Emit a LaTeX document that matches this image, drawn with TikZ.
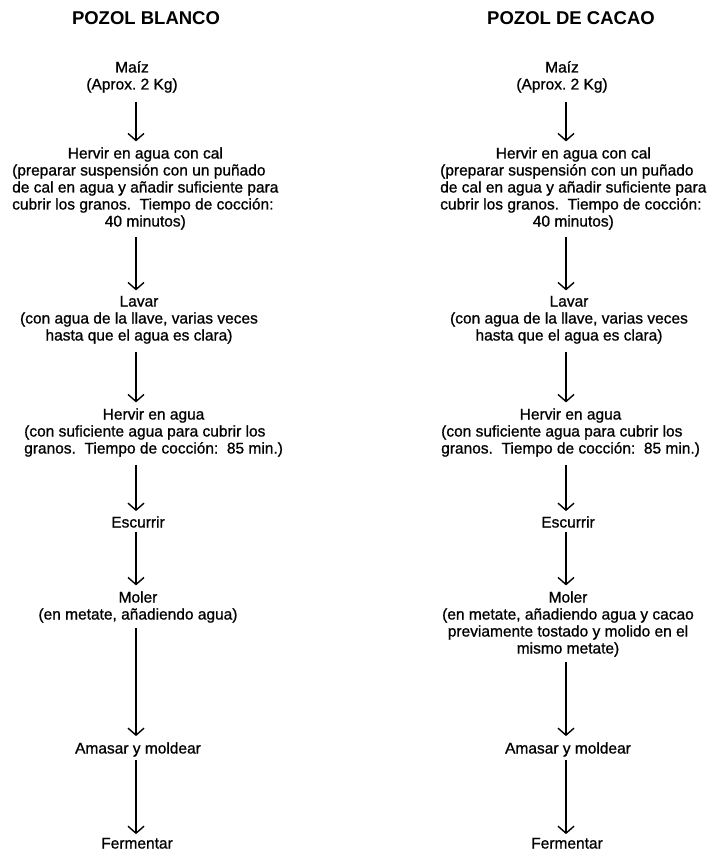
\documentclass[tikz,border=0pt]{standalone}
\usepackage{fontspec}
\setmainfont{Liberation Sans}
\newfontfamily\bodyfont{Liberation Sans}[FakeBold=0.9]
\usetikzlibrary{arrows.meta}
\frenchspacing
\begin{document}
\begin{tikzpicture}[x=1pt,y=-1pt,
  txt/.style={inner sep=0pt, anchor=base, font=\bodyfont\fontsize{15.5}{17}\selectfont},
  para/.style={inner sep=0pt, anchor=base west, font=\bodyfont\fontsize{15.5}{17}\selectfont},
  ttl/.style={inner sep=0pt, anchor=base, font=\fontsize{18.5}{20}\selectfont\bfseries},
  flow/.style={line width=1.4pt, -{Straight Barb[length=7pt,width=16pt,line width=1.4pt]}}]
\useasboundingbox[fill=white] (0,0) rectangle (715,853);
\coordinate (axL) at (136,0);
\coordinate (axR) at (566,0);
% titles
\node[ttl] (tL) at (146,24.5) {POZOL BLANCO};
\node[ttl] (tR) at (571,24.5) {POZOL DE CACAO};
% ---------- left column ----------
\node[txt] (maizL) at (132,72.5) {\begin{tabular}[t]{@{}c@{}}Maíz\\(Aprox. 2 Kg)\end{tabular}};
\node[para] (calL) at (12,158.5) {\begin{tabular}[t]{@{}l@{}}\multicolumn{1}{@{}c@{}}{Hervir en agua con cal}\\(preparar suspensión con un puñado\\de cal en agua y añadir suficiente para\\cubrir los granos.\ \ Tiempo de cocción:\\\multicolumn{1}{@{}c@{}}{40 minutos)}\end{tabular}};
\node[txt] (lavL) at (139,306.5) {\begin{tabular}[t]{@{}c@{}}Lavar\\(con agua de la llave, varias veces\\hasta que el agua es clara)\end{tabular}};
\node[para] (hervL) at (24,419.5) {\begin{tabular}[t]{@{}l@{}}\multicolumn{1}{@{}c@{}}{Hervir en agua}\\(con suficiente agua para cubrir los\\granos.\ \ Tiempo de cocción:\ \ 85 min.)\end{tabular}};
\node[txt] (escL) at (138,527.5) {Escurrir};
\node[txt] (molL) at (138,602.5) {\begin{tabular}[t]{@{}c@{}}Moler\\(en metate, añadiendo agua)\end{tabular}};
\node[txt] (amaL) at (138,753.5) {Amasar y moldear};
\node[txt] (ferL) at (137,848.5) {Fermentar};
% ---------- right column ----------
\node[txt] (maizR) at (562,72.5) {\begin{tabular}[t]{@{}c@{}}Maíz\\(Aprox. 2 Kg)\end{tabular}};
\node[para] (calR) at (440,158.5) {\begin{tabular}[t]{@{}l@{}}\multicolumn{1}{@{}c@{}}{Hervir en agua con cal}\\(preparar suspensión con un puñado\\de cal en agua y añadir suficiente para\\cubrir los granos.\ \ Tiempo de cocción:\\\multicolumn{1}{@{}c@{}}{40 minutos)}\end{tabular}};
\node[txt] (lavR) at (569,306.5) {\begin{tabular}[t]{@{}c@{}}Lavar\\(con agua de la llave, varias veces\\hasta que el agua es clara)\end{tabular}};
\node[para] (hervR) at (441,419.5) {\begin{tabular}[t]{@{}l@{}}\multicolumn{1}{@{}c@{}}{Hervir en agua}\\(con suficiente agua para cubrir los\\granos.\ \ Tiempo de cocción:\ \ 85 min.)\end{tabular}};
\node[txt] (escR) at (568,527.5) {Escurrir};
\node[txt] (molR) at (568,602.5) {\begin{tabular}[t]{@{}c@{}}Moler\\(en metate, añadiendo agua y cacao\\previamente tostado y molido en el\\mismo metate)\end{tabular}};
\node[txt] (amaR) at (568,753.5) {Amasar y moldear};
\node[txt] (ferR) at (567,848.5) {Fermentar};
% ---------- arrows ----------
\foreach \ax/\s in {axL/L, axR/R}{
  \draw[flow, shorten <=7pt, shorten >=5pt] (maiz\s.south -| \ax) -- (cal\s.north -| \ax);
  \draw[flow, shorten <=5pt, shorten >=4pt] (cal\s.south -| \ax) -- (lav\s.north -| \ax);
  \draw[flow, shorten <=6pt, shorten >=5pt] (lav\s.south -| \ax) -- (herv\s.north -| \ax);
  \draw[flow, shorten <=6pt, shorten >=5pt] (herv\s.south -| \ax) -- (esc\s.north -| \ax);
  \draw[flow, shorten <=4pt, shorten >=5pt] (esc\s.south -| \ax) -- (mol\s.north -| \ax);
  \draw[flow, shorten <=3.5pt, shorten >=6pt] (mol\s.south -| \ax) -- (ama\s.north -| \ax);
  \draw[flow, shorten <=3.5pt, shorten >=3.5pt] (ama\s.south -| \ax) -- (fer\s.north -| \ax);
}
\end{tikzpicture}
\end{document}
